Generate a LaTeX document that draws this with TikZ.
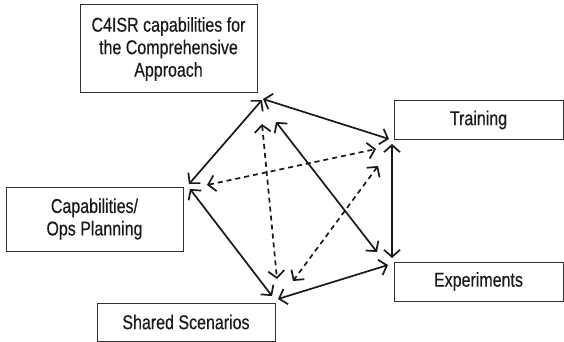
\documentclass[tikz,border=0pt]{standalone}
\usepackage{fontspec}
\setmainfont[FakeStretch=0.8,FakeBold=0.3]{Liberation Sans}
\usetikzlibrary{arrows.meta}
\begin{document}
\begin{tikzpicture}[x=1pt,y=-1pt,
  box/.style={draw=black!80,line width=1pt,inner sep=0pt,font=\fontsize{20}{22.5}\selectfont,align=center,text=black!90},
  conn/.style={line width=1.7pt,black!90,{Straight Barb[length=7pt,width=16pt,line width=1.7pt]}-{Straight Barb[length=7pt,width=16pt,line width=1.7pt]}},
  dconn/.style={conn,dash pattern=on 5pt off 4pt}]
\useasboundingbox (0,0) rectangle (564,342);
\node[box,minimum width=177pt,minimum height=88pt] (c4) at (168.5,49) {C4ISR capabilities for\\the Comprehensive\\Approach};
\node[box,minimum width=169pt,minimum height=38pt] (tr) at (478.5,120) {Training};
\node[box,minimum width=177pt,minimum height=64pt] (cap) at (94.5,219) {Capabilities/\\Ops Planning};
\node[box,minimum width=178pt,minimum height=38pt] (sh) at (186,322) {Shared Scenarios};
\node[box,minimum width=169pt,minimum height=39pt] (ex) at (478.5,281.5) {Experiments};
\coordinate (a1) at (262,100);
\coordinate (a2) at (263,99);
\coordinate (t1) at (389,139);
\coordinate (t2) at (392,144);
\coordinate (e1) at (392,258);
\coordinate (e2) at (388,265);
\coordinate (s1) at (278,299);
\coordinate (s2) at (272,296);
\coordinate (p1) at (189,184);
\coordinate (p2) at (190,189);
\coordinate (m1) at (276,122);
\coordinate (m2) at (377,252);
\coordinate (d1) at (262,124);
\coordinate (d2) at (277,279);
\coordinate (d3) at (207,185);
\coordinate (d4) at (376,149);
\coordinate (d5) at (378,166);
\coordinate (d6) at (293,281);
\draw[conn] (a1) -- (p1);
\draw[conn] (a2) -- (t1);
\draw[conn] (t2) -- (e1);
\draw[conn] (e2) -- (s1);
\draw[conn] (p2) -- (s2);
\draw[conn] (m1) -- (m2);
\draw[dconn] (d1) -- (d2);
\draw[dconn] (d3) -- (d4);
\draw[dconn] (d5) -- (d6);
\end{tikzpicture}
\end{document}
